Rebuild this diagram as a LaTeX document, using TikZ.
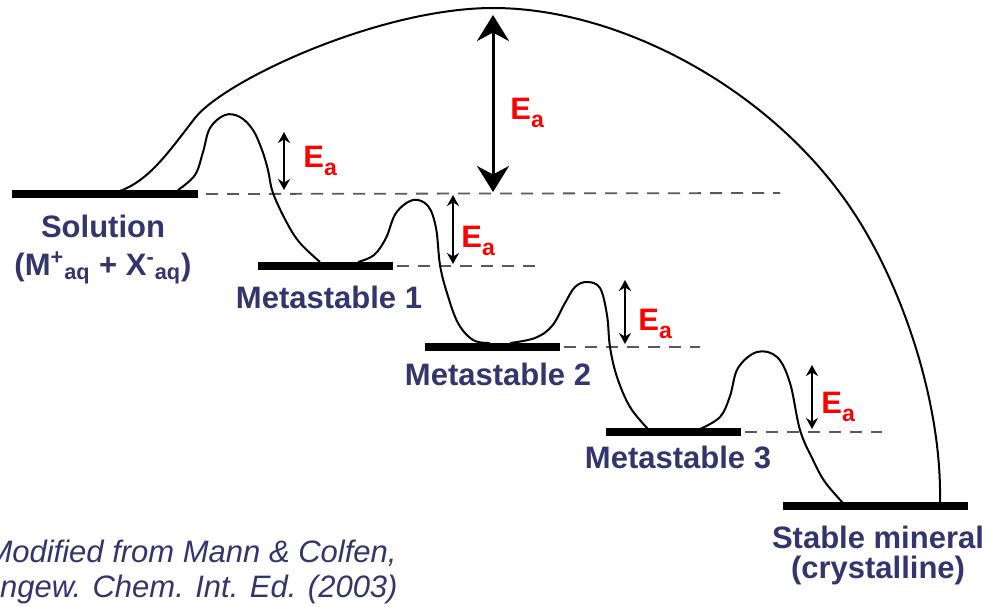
\documentclass[tikz,border=0pt]{standalone}
\usepackage{fontspec}
\setmainfont{Liberation Sans}
\usetikzlibrary{arrows.meta}

\definecolor{labelblue}{RGB}{52,52,110}
\newcommand{\Ea}{E\raisebox{-0.26em}{\fontsize{11.5}{12}\selectfont a}}

\begin{document}
\begin{tikzpicture}[x=0.5pt, y=-0.5pt, >=Stealth,
  levelbar/.style={line width=4pt},
  guide/.style={dash pattern=on 6pt off 4.5pt, line width=0.9pt, black!65},
  profile/.style={line width=1pt},
  barrier/.style={<->, line width=0.9pt, >={Stealth[length=5.5pt,width=6pt]}},
  bigbarrier/.style={<->, line width=1.5pt, >={Stealth[length=13pt,width=16pt]}},
  statelabel/.style={font=\fontsize{15.5}{18}\selectfont\bfseries, text=labelblue, anchor=base, inner sep=0pt},
  elabel/.style={font=\fontsize{15.5}{18}\selectfont\bfseries, text=red, anchor=base west, inner sep=0pt},
  cite/.style={font=\fontsize{15.5}{18}\selectfont\itshape, text=labelblue, anchor=base east, inner sep=0pt}]
  \useasboundingbox (0,0) rectangle (990,606);
  \clip (0,0) rectangle (990,606);

  % Energy levels
  \coordinate (sol-l) at (12,194);  \coordinate (sol-r) at (198,194);
  \coordinate (ms1-l) at (258,266); \coordinate (ms1-r) at (393,266);
  \coordinate (ms2-l) at (425,347); \coordinate (ms2-r) at (560,347);
  \coordinate (ms3-l) at (606,432); \coordinate (ms3-r) at (741,432);
  \coordinate (stb-l) at (783,506); \coordinate (stb-r) at (968,506);
  \draw[levelbar] (sol-l) -- (sol-r);
  \draw[levelbar] (ms1-l) -- (ms1-r);
  \draw[levelbar] (ms2-l) -- (ms2-r);
  \draw[levelbar] (ms3-l) -- (ms3-r);
  \draw[levelbar] (stb-l) -- (stb-r);

  % Dashed reference lines
  \coordinate (sol-d) at (780,193);
  \coordinate (ms1-d) at (535,266);
  \coordinate (ms2-d) at (700,347);
  \coordinate (ms3-d) at (882,432);
  \draw[guide] ([xshift=4pt]sol-r) -- (sol-d);
  \draw[guide] ([xshift=2pt]ms1-r) -- (ms1-d);
  \draw[guide] ([xshift=2pt]ms2-r) -- (ms2-d);
  \draw[guide] ([xshift=2pt]ms3-r) -- (ms3-d);

  % Direct route (big arch)
  \draw[profile] (120,191) .. controls (150,180) and (170,150) .. (195,118)
    .. controls (225,80) and (380,8) .. (493,8)
    .. controls (620,8) and (770,89) .. (850,207)
    .. controls (900,280) and (942,400) .. (940,502);

  % Stepwise route
  \draw[profile] plot[smooth, tension=0.6] coordinates {(178,190) (195,175) (203,152) (210,128)
    (225,115) (240,117) (253,130) (262,150) (268,170) (273,193) (287,223) (300,243) (320,262)};
  \draw[profile] plot[smooth, tension=0.6] coordinates {(358,262) (374,255) (386,238) (396,213)
    (413,200) (428,206) (436,228) (440,265) (447,293) (458,323) (473,340) (490,343)};
  \draw[profile] plot[smooth, tension=0.6] coordinates {(510,343) (535,338) (552,326) (565,303)
    (575,287) (587,282) (600,288) (607,315) (610,347) (617,377) (630,407) (648,429)};
  \draw[profile] plot[smooth, tension=0.6] coordinates {(700,429) (720,417) (730,396) (738,368)
    (757,352) (777,357) (790,383) (800,430) (813,460) (825,482) (843,503)};

  % Barriers
  \coordinate (a0top) at (493,15);  \coordinate (a0bot) at (493,192);
  \coordinate (a1top) at (284,132); \coordinate (a1bot) at (284,190);
  \coordinate (a2top) at (453,195); \coordinate (a2bot) at (453,264);
  \coordinate (a3top) at (625,280); \coordinate (a3bot) at (625,344);
  \coordinate (a4top) at (812,365); \coordinate (a4bot) at (812,429);
  \draw[bigbarrier] (a0top) -- (a0bot);
  \draw[barrier] (a1top) -- (a1bot);
  \draw[barrier] (a2top) -- (a2bot);
  \draw[barrier] (a3top) -- (a3bot);
  \draw[barrier] (a4top) -- (a4bot);
  \node[elabel] (e0) at (510,119) {\Ea};
  \node[elabel] (e1) at (303,167) {\Ea};
  \node[elabel] (e2) at (461,247) {\Ea};
  \node[elabel] (e3) at (638,330) {\Ea};
  \node[elabel] (e4) at (821,413) {\Ea};

  % State labels
  \node[statelabel] (solLab) at (103,237) {Solution};
  \node[statelabel] (ionLab) at (103,275) {(M\textsuperscript{+}\textsubscript{aq} + X\textsuperscript{-}\textsubscript{aq})};
  \node[statelabel] (ms1Lab) at (329,308) {Metastable 1};
  \node[statelabel] (ms2Lab) at (498,385) {Metastable 2};
  \node[statelabel] (ms3Lab) at (678,468) {Metastable 3};
  \node[statelabel] (stbLab) at (878,548) {Stable mineral};
  \node[statelabel] (crysLab) at (878,578) {(crystalline)};

  % Source
  \node[cite] (cite1) at (397,562) {Modified from Mann \& Colfen,};
  \node[cite] (cite2) at (398,597) {Angew. Chem. Int. Ed. (2003)};
\end{tikzpicture}
\end{document}
